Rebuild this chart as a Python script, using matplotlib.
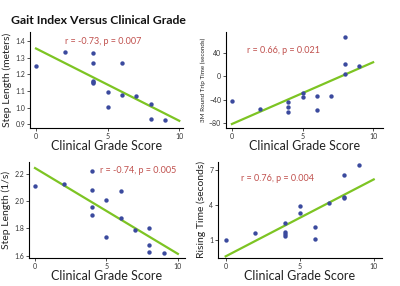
# Gait index vs clinical grade - 4 scatter panels with fit lines
import matplotlib
matplotlib.use("Agg")
import matplotlib.pyplot as plt

plt.rcParams['font.family'] = ['Lato', 'DejaVu Sans']

# clinical grade scores per panel
x_step = [0, 2, 4, 4, 4, 4, 4, 6, 5, 5, 6, 7, 8, 8, 9]
y_step = [1.25, 1.332, 1.33, 1.27, 1.16, 1.152, 1.146, 1.265, 1.094, 1.006, 1.076, 1.072, 1.024, 0.932, 0.922]

x_trip = [0, 2, 4, 4, 4, 5, 5, 6, 6, 7, 8, 8, 8, 9]
y_trip = [-41.7, -55.8, -44, -53, -60.3, -28.7, -36, -33, -57.5, -33, 66, 20.3, 4, 17]

x_freq = [0, 2, 4, 4, 4, 4, 5, 5, 6, 6, 7, 8, 8, 8, 9]
y_freq = [2.112, 2.127, 2.22, 2.083, 1.954, 1.90, 2.005, 1.741, 2.073, 1.876, 1.788, 1.805, 1.678, 1.627, 1.622]

x_rise = [0, 2, 4, 4, 4, 4, 5, 5, 6, 6, 7, 8, 8, 8, 9]
y_rise = [1.03, 1.6, 2.53, 1.73, 1.53, 1.38, 3.97, 3.36, 2.15, 1.09, 4.17, 6.57, 4.7, 4.6, 7.43]

# fit line end points (x = 0 and x = 10)
fit_x = [0, 10]
fit_step = [1.355, 0.92]
fit_trip = [-81, 23.7]
fit_freq = [2.24, 1.615]
fit_rise = [-0.36, 6.22]

blue = "#3b4a9e"
green = "#7dc423"
red = "#c0504d"

fig = plt.figure(figsize=(4, 2.86), dpi=100)

panels = [
    # rect, x, y, fit, ylabel, ylabel size, yticks, xlim, ylim, label, label pos
    ([0.075, 0.552, 0.3825, 0.336], x_step, y_step, fit_step, "Step Length (meters)", 7.5,
     [0.9, 1.0, 1.1, 1.2, 1.3, 1.4], (-0.42, 10.26), (0.876, 1.454), "r = -0.73, p = 0.007", (2.0, 1.395)),
    ([0.565, 0.552, 0.3925, 0.336], x_trip, y_trip, fit_trip, "3M Round Trip Time (seconds)", 4.5,
     [-80, -40, 0, 40], (-0.42, 10.7), (-88, 75), "r = 0.66, p = 0.021", (1.08, 43.4)),
    ([0.0725, 0.098, 0.39, 0.336], x_freq, y_freq, fit_freq, "Step Length (1/s)", 7.5,
     [1.6, 1.8, 2.0, 2.2], (-0.42, 10.5), (1.585, 2.285), "r = -0.74, p = 0.005", (4.53, 2.22)),
    ([0.545, 0.098, 0.41, 0.336], x_rise, y_rise, fit_rise, "Rising Time (seconds)", 7.5,
     [1, 4, 7], (-0.52, 10.56), (-0.5, 7.72), "r = 0.76, p = 0.004", (1.01, 6.28)),
]

for rect, xs, ys, fit, ylab, ysize, yt, xl, yl, txt, tpos in panels:
    ax = fig.add_axes(rect)
    ax.plot(fit_x, fit, color=green, lw=1.6, zorder=2)
    ax.scatter(xs, ys, s=10, color=blue, zorder=3, linewidths=0)
    ax.set_xlim(*xl)
    ax.set_ylim(*yl)
    ax.set_xticks([0, 5, 10])
    ax.set_yticks(yt)
    ax.spines['top'].set_visible(False)
    ax.spines['right'].set_visible(False)
    ax.tick_params(labelsize=5, length=2, width=0.6, colors="#333333", pad=1.5)
    ax.set_xlabel("Clinical Grade Score", fontsize=9, color="#222222", labelpad=0)
    ax.set_ylabel(ylab, fontsize=ysize, color="#222222", labelpad=2)
    ax.text(tpos[0], tpos[1], txt, color=red, fontsize=6.5, va="center", ha="left")

fig.text(0.245, 0.93, "Gait Index Versus Clinical Grade", fontsize=8.8, fontweight="bold",
         ha="center", va="center", color="#111111")

fig.savefig("out.png", dpi=100)
